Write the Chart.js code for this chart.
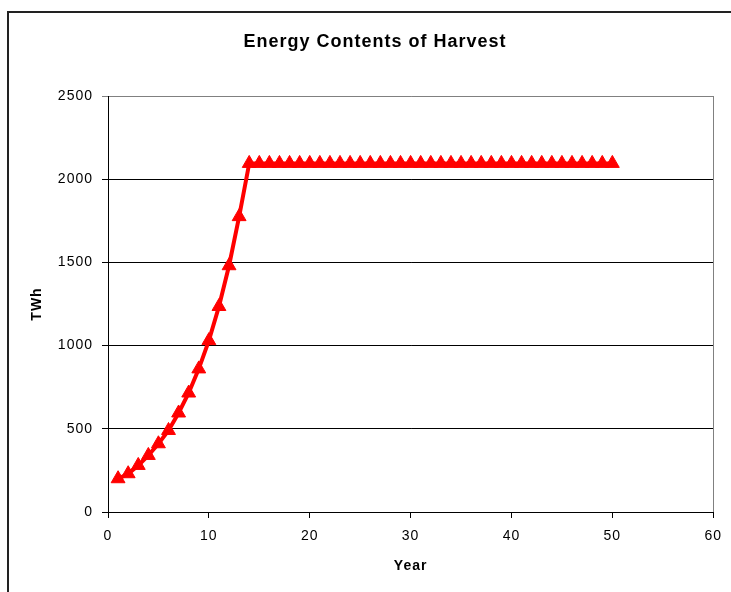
<!DOCTYPE html>
<html>
<head>
<meta charset="utf-8">
<script src="https://cdn.jsdelivr.net/npm/chart.js@4/dist/chart.umd.min.js"></script>
<style>
  html, body { margin: 0; padding: 0; background: #fff; }
</style>
</head>
<body>
<canvas id="harvestChart" width="731" height="592"></canvas>
<script>
const years = [1, 2, 3, 4, 5, 6, 7, 8, 9, 10,
    11, 12, 13, 14, 15, 16, 17, 18, 19, 20,
    21, 22, 23, 24, 25, 26, 27, 28, 29, 30,
    31, 32, 33, 34, 35, 36, 37, 38, 39, 40,
    41, 42, 43, 44, 45, 46, 47, 48, 49, 50];
const energyTWh = [200, 230, 280, 340, 410, 490, 595, 715, 860, 1030,
    1235, 1480, 1775, 2095, 2095, 2095, 2095, 2095, 2095, 2095,
    2095, 2095, 2095, 2095, 2095, 2095, 2095, 2095, 2095, 2095,
    2095, 2095, 2095, 2095, 2095, 2095, 2095, 2095, 2095, 2095,
    2095, 2095, 2095, 2095, 2095, 2095, 2095, 2095, 2095, 2095];
const xTickValues = [0, 10, 20, 30, 40, 50, 60];
const yTickValues = [0, 500, 1000, 1500, 2000, 2500];

Chart.defaults.font.family = '"Liberation Sans", Arial, sans-serif';
Chart.defaults.color = '#000';

// outer frame, grey right edge of plot, wider letter spacing like the original
const framePlugin = {
    id: 'frame',
    beforeDraw(chart) {
        const c = chart.ctx;
        c.save();
        c.fillStyle = '#fff';
        c.fillRect(0, 0, chart.width, chart.height);
        c.strokeStyle = '#222';
        c.lineWidth = 2;
        c.strokeRect(8, 12, chart.width + 20, chart.height + 20);
        c.restore();
        c.letterSpacing = '1px';
    },
    beforeDatasetsDraw(chart) {
        const c = chart.ctx;
        const { top, bottom, right } = chart.chartArea;
        c.save();
        c.strokeStyle = '#808080';
        c.lineWidth = 1;
        c.beginPath();
        c.moveTo(Math.round(right) + 0.5, top);
        c.lineTo(Math.round(right) + 0.5, bottom);
        c.stroke();
        c.restore();
    },
};

const ctx = document.getElementById('harvestChart').getContext('2d');

let harvestChart = new Chart(ctx, {
    type: 'line',
    data: {
        datasets: [{
            label: 'Energy',
            data: years.map((yr, i) => ({ x: yr, y: energyTWh[i] })),
            borderColor: '#ff0000',
            backgroundColor: '#ff0000',
            borderWidth: 4,
            pointStyle: 'triangle',
            pointRadius: 8,
            pointBorderWidth: 1,
            pointBackgroundColor: '#ff0000',
            pointBorderColor: '#ff0000',
            tension: 0,
            clip: false,
        }],
    },
    options: {
        responsive: false,
        devicePixelRatio: 1,
        animation: false,
        layout: {
            padding: { left: 36, right: 17, top: 0, bottom: 0 },
        },
        plugins: {
            legend: { display: false },
            tooltip: { enabled: false },
            title: {
                display: true,
                text: 'Energy Contents of Harvest',
                color: '#000',
                font: { size: 18, weight: 'bold' },
                padding: { top: 31.7, bottom: 42.7 },
            },
        },
        scales: {
            x: {
                type: 'linear',
                min: 0,
                max: 60,
                afterBuildTicks: scale => { scale.ticks = xTickValues.map(v => ({ value: v })); },
                afterFit: scale => { scale.height = 80; },
                ticks: {
                    font: { size: 14 },
                    padding: 10,
                    color: '#000',
                    callback: v => String(v),
                },
                grid: {
                    drawOnChartArea: false,
                    drawTicks: true,
                    tickLength: 6,
                    color: '#000',
                },
                border: { color: '#000', width: 1 },
                title: {
                    display: true,
                    text: 'Year',
                    font: { size: 14, weight: 'bold' },
                    padding: { top: 0, bottom: 17.6 },
                },
            },
            y: {
                min: 0,
                max: 2500,
                afterBuildTicks: scale => { scale.ticks = yTickValues.map(v => ({ value: v })); },
                afterFit: scale => { scale.width = 72; },
                ticks: {
                    font: { size: 14 },
                    padding: 9,
                    color: '#000',
                    callback: v => String(v),
                },
                grid: {
                    tickLength: 6,
                    color: c => (c.tick && c.tick.value === 2500 ? '#808080' : '#000'),
                },
                border: { color: '#000', width: 1 },
                title: {
                    display: true,
                    text: 'TWh',
                    font: { size: 14, weight: 'bold' },
                    padding: { top: -6.9, bottom: 0 },
                },
            },
        },
    },
    plugins: [framePlugin],
});
</script>
</body>
</html>
